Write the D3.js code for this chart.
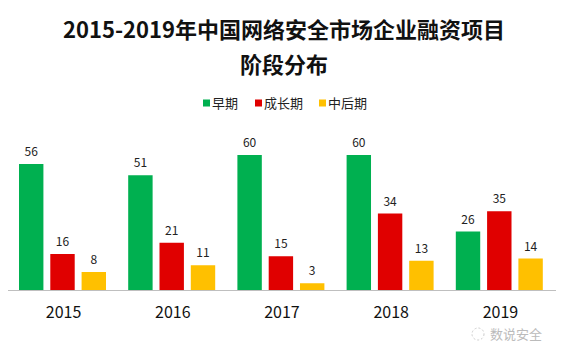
<!DOCTYPE html>
<html><head><meta charset="utf-8">
<script src="https://cdn.jsdelivr.net/npm/d3@7/dist/d3.min.js"></script>
<style>body{margin:0;background:#fff;}svg{display:block;}</style>
</head><body>
<svg id="c" width="564" height="359"></svg>
<script>
const years = ["2015","2016","2017","2018","2019"];
const seriesNames = ["早期","成长期","中后期"];
const early = [56,51,60,60,26];
const growth = [16,21,15,34,35];
const late = [8,11,3,13,14];
const colors = ["#00B050","#E00000","#FFC000"];
const titleLines = ["2015-2019年中国网络安全市场企业融资项目","阶段分布"];

const font = "'Noto Sans CJK SC','Noto Sans',sans-serif";
const svg = d3.select("#c");
const series = [early, growth, late];

const x0 = d3.scaleBand().domain(years).range([9,555]).paddingInner(0).paddingOuter(0);
const x1 = d3.scaleBand().domain(d3.range(3)).range([10,97]).paddingInner(0.22).paddingOuter(0);
const y = d3.scaleLinear().domain([0,60]).range([290,155]);

// title
svg.selectAll("text.title").data(titleLines).enter().append("text")
  .attr("x",284).attr("y",(d,i)=>38+i*35).attr("text-anchor","middle")
  .attr("font-family",font).attr("font-weight","bold").attr("font-size",22).attr("fill","#111")
  .text(d=>d);

// legend
const legX = [203,255,319];
const lg = svg.selectAll("g.leg").data(seriesNames).enter().append("g")
  .attr("transform",(d,i)=>`translate(${legX[i]},103)`);
lg.append("rect").attr("x",0).attr("y",-3.5).attr("width",7).attr("height",7).attr("fill",(d,i)=>colors[i]);
lg.append("text").attr("x",9).attr("y",5).attr("font-family",font).attr("font-size",13).attr("fill","#222").text(d=>d);

// bars
const g = svg.selectAll("g.grp").data(years).enter().append("g")
  .attr("transform",d=>`translate(${x0(d)},0)`);
series.forEach((s,si)=>{
  g.append("rect")
    .attr("x",x1(si)).attr("width",x1.bandwidth())
    .attr("y",(d,i)=>y(s[i])).attr("height",(d,i)=>y(0)-y(s[i]))
    .attr("fill",colors[si]);
  g.append("text")
    .attr("x",x1(si)+x1.bandwidth()/2).attr("y",(d,i)=>y(s[i])-8)
    .attr("text-anchor","middle").attr("font-family",font).attr("font-size",12).attr("fill","#222")
    .text((d,i)=>s[i]);
});

// axis
const ax = svg.append("g").attr("transform","translate(0,290)")
  .call(d3.axisBottom(x0).tickSize(0).tickPadding(14));
ax.select(".domain").attr("stroke","#bfbfbf").attr("stroke-width",1.2).attr("d","M8,0.5H556");
ax.selectAll("text").attr("font-family",font).attr("font-size",16).attr("fill","#111").attr("dy","0.9em");

// watermark
const wm = svg.append("g").attr("transform","translate(470,335)");
wm.append("circle").attr("cx",8).attr("cy",-1).attr("r",6).attr("fill","none").attr("stroke","#ccc").attr("stroke-dasharray","2,2");
wm.append("text").attr("x",20).attr("y",4).attr("font-family",font).attr("font-size",13).attr("fill","#bbb").text("数说安全");
</script>
</body></html>
